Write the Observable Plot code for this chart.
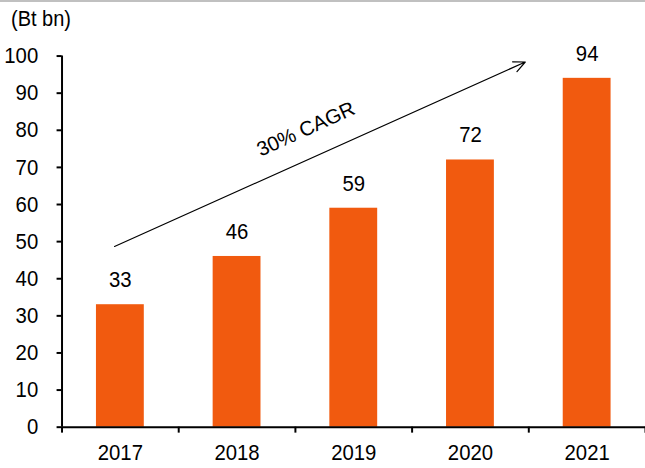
<!DOCTYPE html>
<html><head><meta charset="utf-8">
<script src="https://cdn.jsdelivr.net/npm/d3@7"></script>
<script src="https://cdn.jsdelivr.net/npm/@observablehq/plot@0.6"></script>
<style>
html,body{margin:0;padding:0;background:#fff;overflow:hidden;width:645px;height:468px}
#wrap{position:relative;width:645px;height:468px;border-top:2px solid #c0c0c0;box-sizing:border-box}
#unit{position:absolute;left:11px;top:5px;font:20px "Liberation Sans",Arial,sans-serif;color:#000;transform:scaleY(1.1);transform-origin:left center}
#chart{position:absolute;left:0;top:-2px}
</style></head>
<body><div id="wrap"><div id="unit">(Bt bn)</div><div id="chart"></div></div>
<script>
const years = [2017, 2018, 2019, 2020, 2021];
const values = [33, 46, 59, 72, 94];
const yTicks = [0,10,20,30,40,50,60,70,80,90,100];
const cagrLabel = "30% CAGR";
const arrowFrom = {year: 2016.95, value: 48.7};
const arrowTo = {year: 2020.47, value: 98.4};

const data = years.map((y,i)=>({year:y, value:values[i]}));
const bounds = [2016.5,2017.5,2018.5,2019.5,2020.5,2021.5];
const font = '"Liberation Sans", Arial, sans-serif';
const color = "#f15a0f";
const fs = 20.5;

const chart = Plot.plot({
  width: 650, height: 468,
  marginLeft: 62, marginRight: 0, marginTop: 56, marginBottom: 38,
  style: {fontFamily: font, fontSize: fs + "px", color: "#000", background: "transparent", overflow: "visible"},
  x: {type: "linear", domain: [2016.5, 2021.5]},
  y: {domain: [0, 100]},
  marks: [
    Plot.rectY(data, {x1: d=>d.year-0.205, x2: d=>d.year+0.205, y: "value", fill: color}),
    Plot.text(data, {x: "year", y: "value", text: d=>String(d.value), dy: -25, fontSize: fs, fill: "#000"}),
    Plot.axisY({ticks: yTicks, tickSize: 5, tickPadding: 19, tickFormat: d=>String(d), strokeWidth: 2, fontSize: fs, label: null}),
    Plot.axisX({ticks: bounds, tickSize: 6, tickFormat: ()=>"", strokeWidth: 2, label: null}),
    Plot.axisX({ticks: years, tickSize: 0, tickPadding: 17, tickFormat: d=>String(d), fontSize: fs, label: null}),
    Plot.ruleX([2016.5], {y1: 0, y2: 100, stroke: "#000", strokeWidth: 2}),
    Plot.ruleY([0], {x1: 2016.5, x2: 2021.6, stroke: "#000", strokeWidth: 2}),
    Plot.arrow([0], {x1: ()=>arrowFrom.year, y1: ()=>arrowFrom.value, x2: ()=>arrowTo.year, y2: ()=>arrowTo.value, bend: 0, headLength: 16, headAngle: 50, stroke: "#000", strokeWidth: 1.2}),
    Plot.text([cagrLabel], {x: ()=>2018.59, y: ()=>80.3, text: d=>d, rotate: -24.4, fontSize: fs, fill: "#000", className: "cagr"})
  ]
});
// slight vertical stretch of the glyphs to match the reference type
chart.querySelectorAll("text").forEach(t => {
  if (t.closest(".cagr")) return;
  const tr = t.getAttribute("transform");
  if (tr) {
    t.setAttribute("transform", tr + " scale(1,1.1)");
  } else {
    const x = +(t.getAttribute("x") || 0), y = +(t.getAttribute("y") || 0);
    t.setAttribute("transform", `translate(${x},${y}) scale(1,1.1) translate(${-x},${-y})`);
  }
});
document.getElementById("chart").appendChild(chart);
</script></body></html>
